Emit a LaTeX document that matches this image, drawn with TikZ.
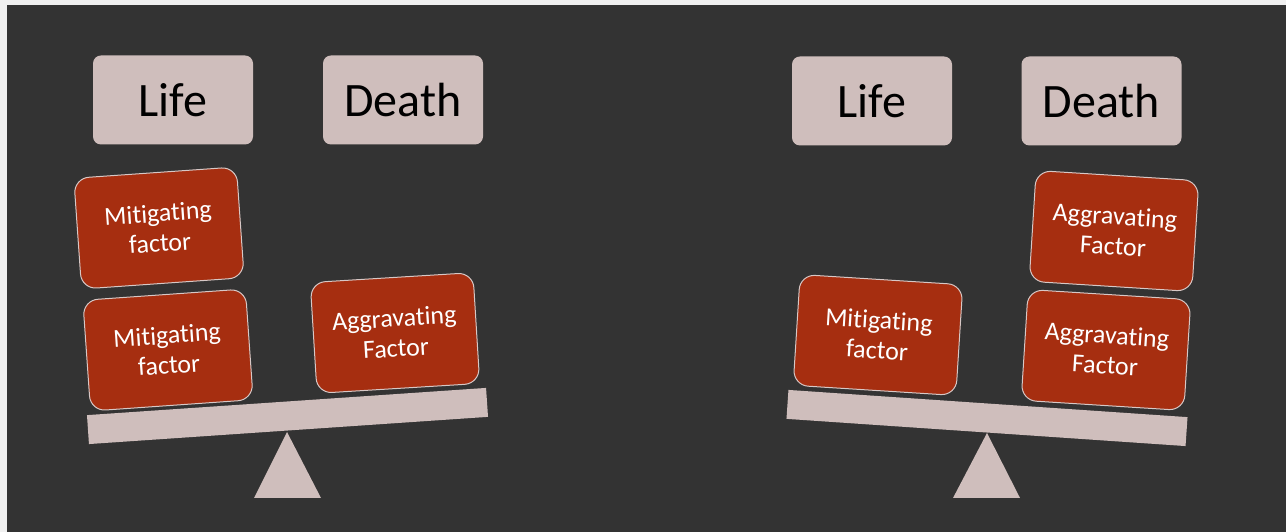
\documentclass[tikz,border=0pt]{standalone}
\usepackage{fontspec}
\setmainfont{Carlito}[RawFeature={-liga}]
\definecolor{bgdark}{RGB}{51,51,51}
\definecolor{edge}{RGB}{240,240,240}
\definecolor{pale}{RGB}{207,190,188}
\definecolor{rust}{RGB}{166,46,16}
\definecolor{rim}{RGB}{215,200,198}
\tikzset{
  label box/.style={rectangle, rounded corners=8pt, fill=pale, minimum width=160pt, minimum height=89pt, inner sep=0pt, font=\fontsize{48}{56}\selectfont, text=black},
  factor box/.style={rectangle, rounded corners=15pt, fill=rust, draw=rim, line width=1pt, minimum width=163pt, minimum height=111pt, inner sep=0pt, align=center, text=white, font=\fontsize{26}{30}\selectfont},
  plank/.style={rectangle, fill=pale, minimum width=400pt, minimum height=29pt, inner sep=0pt},
  fulcrum/.style={fill=pale},
}
\begin{document}
\begin{tikzpicture}[x=1pt,y=1pt]
\useasboundingbox (0,0) rectangle (1286,532);
\fill[edge] (0,0) rectangle (1286,532);
\fill[bgdark] (7,0) rectangle (1286,527);
% left scale
\node[label box] (lifeL) at (173,432) {Life};
\node[label box] (deathL) at (403,432) {Death};
\node[plank, rotate=3.9] (plankL) at (287.5,116) {};
\fill[fulcrum] (287,100) -- (254,34) -- (321,34) -- cycle;
\node[factor box, rotate=4] (mitL1) at (159,304) {Mitigating\\factor};
\node[factor box, rotate=4] (mitL2) at (168,182) {Mitigating\\factor};
\node[factor box, rotate=3.5] (aggL) at (395,199) {Aggravating\\Factor};
% right scale
\node[label box] (lifeR) at (872,431) {Life};
\node[label box] (deathR) at (1101.5,431) {Death};
\node[plank, rotate=-3.9] (plankR) at (987,114) {};
\fill[fulcrum] (987,99) -- (953,34) -- (1020,34) -- cycle;
\node[factor box, rotate=-3.6] (mitR) at (878,197) {Mitigating\\factor};
\node[factor box, rotate=-3.6] (aggR1) at (1114,301) {Aggravating\\Factor};
\node[factor box, rotate=-3.6] (aggR2) at (1106,182) {Aggravating\\Factor};
\end{tikzpicture}
\end{document}
